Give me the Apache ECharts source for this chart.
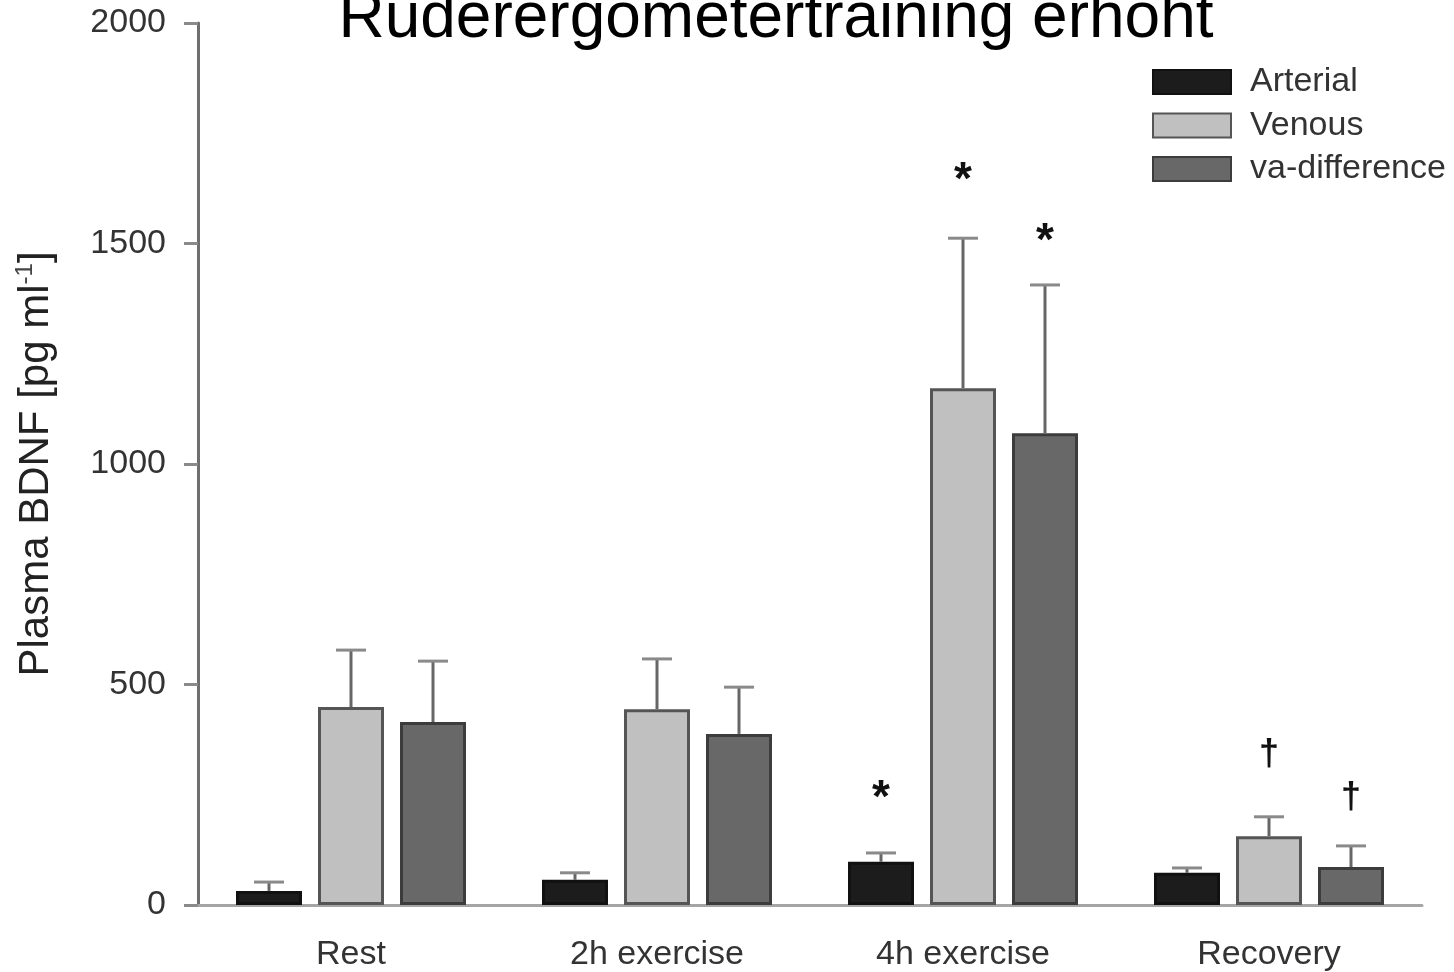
<!DOCTYPE html>
<html>
<head>
<meta charset="utf-8">
<title>Plasma BDNF</title>
<script src="https://cdn.jsdelivr.net/npm/echarts@6/dist/echarts.min.js"></script>
<style>
  html, body { margin: 0; padding: 0; background: #fff; }
  #chart { width: 1454px; height: 972px; }
</style>
</head>
<body>
<div id="chart"></div>
<script>
// Plasma BDNF concentrations (pg/ml), mean values with upward SEM whiskers
const categories = ['Rest', '2h exercise', '4h exercise', 'Recovery'];
const yTicks = [0, 500, 1000, 1500, 2000];

const arterial    = [32, 57, 98, 73];
const arterialSem = [20, 16, 20, 11];
const arterialMark = ['', '', '*', ''];

const venous    = [449, 444, 1172, 156];
const venousSem = [129, 114, 340, 44];
const venousMark = ['', '', '*', '\u2020'];

const vaDiff    = [415, 388, 1070, 86];
const vaDiffSem = [138, 106, 336, 48];
const vaDiffMark = ['', '', '*', '\u2020'];

const FONT = '"Liberation Sans", Arial, Helvetica, sans-serif';
const BAR_W = 66;
const BAR_GAP = 16;

const chart = echarts.init(document.getElementById('chart'), null, { renderer: 'canvas' });

// Whisker + significance symbol drawn above each bar of one group slot
function whiskers(id, values, sems, marks, slot, lift) {
  return {
    type: 'custom',
    id: id,
    silent: true,
    z: 4,
    data: values.map((v, i) => [i, v, v + sems[i]]),
    renderItem(params, api) {
      const i = api.value(0);
      const base = api.coord([i, api.value(1)]);
      const top = api.coord([i, api.value(2)]);
      const x = Math.round(base[0] + slot * (BAR_W + BAR_GAP));
      const children = [
        { type: 'line', shape: { x1: x, y1: base[1], x2: x, y2: top[1] },
          style: { stroke: '#666', lineWidth: 3 } },
        { type: 'line', shape: { x1: x - 15, y1: top[1], x2: x + 15, y2: top[1] },
          style: { stroke: '#8a8a8a', lineWidth: 3 } }
      ];
      const m = marks[params.dataIndex];
      if (m) {
        const star = m === '*';
        children.push({
          type: 'text',
          style: {
            text: m, x: x, y: top[1] - lift + (star ? 7 : 2),
            align: 'center', verticalAlign: 'middle',
            font: star ? 'bold 46px ' + FONT : 'bold 36px ' + FONT,
            fill: '#111'
          }
        });
      }
      return { type: 'group', children: children };
    }
  };
}

const barStyle = (fill, border) => ({ color: fill, borderColor: border, borderWidth: 3 });

const option = {
  animation: false,
  backgroundColor: '#fff',
  grid: { left: 198, right: 32, top: 23, bottom: 67, containLabel: false },
  legend: {
    orient: 'vertical',
    left: 1147,
    top: 60,
    icon: 'rect',
    itemWidth: 78,
    itemHeight: 24,
    itemGap: 9.5,
    data: ['Arterial', 'Venous', 'va-difference'],
    textStyle: { fontFamily: FONT, fontSize: 34, color: '#333', lineHeight: 32, padding: [0, 0, 0, 14] }
  },
  xAxis: {
    type: 'category',
    data: categories,
    axisLine: { lineStyle: { color: '#a5a5a5', width: 3 } },
    axisTick: { alignWithLabel: true, length: 11, lineStyle: { color: '#8a8a8a', width: 3 } },
    axisLabel: { fontFamily: FONT, fontSize: 34, color: '#333', margin: 33 }
  },
  yAxis: {
    type: 'value',
    min: 0,
    max: 2000,
    interval: 500,
    name: '{m|Plasma BDNF [pg ml}{s|-1}{m|]}',
    nameLocation: 'middle',
    nameRotate: 90,
    nameGap: 139,
    nameTextStyle: {
      rich: {
        m: { fontFamily: FONT, fontSize: 42, color: '#222', lineHeight: 46 },
        s: { fontFamily: FONT, fontSize: 24, color: '#444', verticalAlign: 'top', lineHeight: 24 }
      }
    },
    splitLine: { show: false },
    axisLine: { show: true, lineStyle: { color: '#6e6e6e', width: 3 } },
    axisTick: { show: true, length: 14, lineStyle: { color: '#8a8a8a', width: 3 } },
    axisLabel: {
      fontFamily: FONT, fontSize: 34, color: '#333', margin: 32,
      formatter: v => (yTicks.indexOf(v) >= 0 ? String(v) : '')
    }
  },
  graphic: [{
    type: 'text',
    style: {
      text: 'Ruderergometertraining erhoht',
      x: 776, y: 19,
      align: 'center', verticalAlign: 'middle',
      font: '64px ' + FONT,
      fill: '#000'
    }
  }],
  series: [
    { type: 'bar', name: 'Arterial', data: arterial, barWidth: BAR_W, barGap: (BAR_GAP / BAR_W * 100) + '%',
      itemStyle: barStyle('#1c1c1c', '#111') },
    { type: 'bar', name: 'Venous', data: venous, barWidth: BAR_W,
      itemStyle: barStyle('#c0c0c0', '#555') },
    { type: 'bar', name: 'va-difference', data: vaDiff, barWidth: BAR_W,
      itemStyle: barStyle('#686868', '#3c3c3c') },
    whiskers('errA', arterial, arterialSem, arterialMark, -1, 61),
    whiskers('errV', venous, venousSem, venousMark, 0, 64),
    whiskers('errD', vaDiff, vaDiffSem, vaDiffMark, 1, 50)
  ]
};

chart.setOption(option);
</script>
</body>
</html>
